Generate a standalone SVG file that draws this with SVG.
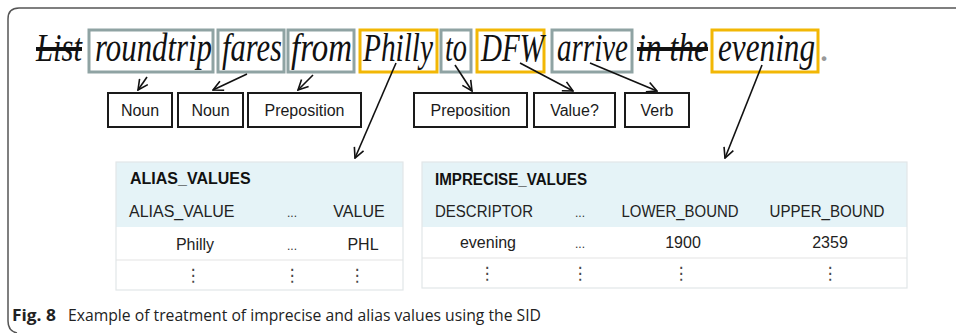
<svg xmlns="http://www.w3.org/2000/svg" width="956" height="333" viewBox="0 0 956 333">
  <style>
    .word { font-family: "Liberation Serif", "Times New Roman", serif; font-style: italic; font-size: 40px; fill: #111; }
    .strike { text-decoration: line-through; }
    .wbox-g { fill: none; stroke: #8fa3a3; stroke-width: 3; }
    .wbox-y { fill: none; stroke: #f2b705; stroke-width: 3; }
    .pos rect { fill: #fff; stroke: #1a1a1a; stroke-width: 2; }
    .pos text { font-family: "Liberation Sans", Arial, sans-serif; font-size: 16px; fill: #1a1a1a; text-anchor: middle; }
    .conn line { stroke: #111; stroke-width: 1.6; marker-end: url(#arrow); }
    .tbl-head { fill: #e5f3f7; }
    .tbl-frame { fill: none; stroke: #e2e6e8; stroke-width: 1.2; }
    .tbl-rule { stroke: #e4e4e4; stroke-width: 1.2; }
    .tt { font-family: "Liberation Sans", Arial, sans-serif; font-size: 16px; font-weight: bold; fill: #111; }
    .tc { font-family: "Liberation Sans", Arial, sans-serif; font-size: 16px; fill: #222; }
    .mid { text-anchor: middle; }
    .ell { font-family: "Liberation Sans", Arial, sans-serif; font-size: 12px; fill: #333; text-anchor: middle; }
    .vdots { font-family: "DejaVu Sans", sans-serif; font-size: 17px; fill: #444; text-anchor: middle; }
    .cap { font-family: "Open Sans", "Noto Sans", sans-serif; font-size: 16.5px; fill: #222; }
  </style>
  <defs>
    <marker id="arrow" viewBox="0 0 12 12" refX="11" refY="6" markerWidth="12" markerHeight="12" markerUnits="userSpaceOnUse" orient="auto">
      <path d="M1,1 L11,6 L1,11" fill="none" stroke="#111" stroke-width="1.6"/>
    </marker>
  </defs>

  <rect width="956" height="333" fill="#fff"/>

  <!-- figure frame: top and left edges with rounded corners -->
  <path d="M956 8 H19 Q8 8 8 19 V321 Q8 331 17 333" fill="none" stroke="#555" stroke-width="1.5"/>

  <!-- sentence -->
  <g id="sentence">
    <text class="word strike" x="36" y="61" textLength="46" lengthAdjust="spacingAndGlyphs">List</text>

    <g id="w-roundtrip">
      <rect class="wbox-g" x="89" y="30" width="124" height="42"/>
      <text class="word" x="95" y="61" textLength="117" lengthAdjust="spacingAndGlyphs">roundtrip</text>
    </g>
    <g id="w-fares">
      <rect class="wbox-g" x="218" y="30" width="66" height="42"/>
      <text class="word" x="222" y="61" textLength="60" lengthAdjust="spacingAndGlyphs">fares</text>
    </g>
    <g id="w-from">
      <rect class="wbox-g" x="288" y="30" width="66" height="42"/>
      <text class="word" x="291" y="61" textLength="61" lengthAdjust="spacingAndGlyphs">from</text>
    </g>
    <g id="w-philly">
      <rect class="wbox-y" x="360" y="30" width="77" height="42"/>
      <text class="word" x="363" y="61" textLength="70" lengthAdjust="spacingAndGlyphs">Philly</text>
    </g>
    <g id="w-to">
      <rect class="wbox-g" x="441" y="30" width="30" height="42"/>
      <text class="word" x="445" y="61" textLength="22" lengthAdjust="spacingAndGlyphs">to</text>
    </g>
    <g id="w-dfw">
      <rect class="wbox-y" x="477" y="30" width="67" height="42"/>
      <text class="word" x="481" y="61" textLength="63" lengthAdjust="spacingAndGlyphs">DFW</text>
    </g>
    <g id="w-arrive">
      <rect class="wbox-g" x="552" y="30" width="80" height="42"/>
      <text class="word" x="557" y="61" textLength="71" lengthAdjust="spacingAndGlyphs">arrive</text>
    </g>
    <text class="word strike" x="637" y="61" textLength="71" lengthAdjust="spacingAndGlyphs">in the</text>
    <g id="w-evening">
      <rect class="wbox-y" x="712" y="30" width="106" height="42"/>
      <text class="word" x="718" y="61" textLength="97" lengthAdjust="spacingAndGlyphs">evening</text>
    </g>
    <text class="word" x="820" y="61" style="fill:#999">.</text>
  </g>

  <!-- part-of-speech tags -->
  <g id="pos-noun1" class="pos">
    <rect x="108" y="93" width="64" height="34"/>
    <text x="140" y="116">Noun</text>
  </g>
  <g id="pos-noun2" class="pos">
    <rect x="178" y="93" width="65" height="34"/>
    <text x="210.5" y="116">Noun</text>
  </g>
  <g id="pos-prep1" class="pos">
    <rect x="248" y="93" width="113" height="34"/>
    <text x="304.5" y="116">Preposition</text>
  </g>
  <g id="pos-prep2" class="pos">
    <rect x="414" y="93" width="113" height="34"/>
    <text x="470.5" y="116">Preposition</text>
  </g>
  <g id="pos-value" class="pos">
    <rect x="534" y="93" width="81" height="34"/>
    <text x="574.5" y="116">Value?</text>
  </g>
  <g id="pos-verb" class="pos">
    <rect x="625" y="93" width="64" height="34"/>
    <text x="657" y="116">Verb</text>
  </g>

  <!-- connectors -->
  <g id="connectors" class="conn">
    <line x1="147" y1="77" x2="138" y2="90"/>
    <line x1="247" y1="74" x2="213" y2="90"/>
    <line x1="313" y1="75" x2="298" y2="90"/>
    <line x1="396" y1="63" x2="355" y2="158"/>
    <line x1="455" y1="65" x2="472" y2="91"/>
    <line x1="520" y1="63" x2="573" y2="91"/>
    <line x1="590" y1="63" x2="657" y2="91"/>
    <line x1="762" y1="65" x2="725" y2="158"/>
  </g>

  <!-- ALIAS_VALUES table -->
  <g id="tbl-alias">
    <rect class="tbl-head" x="116" y="162" width="287" height="65"/>
    <line class="tbl-rule" x1="116" y1="260" x2="403" y2="260"/>
    <rect class="tbl-frame" x="116" y="162" width="287" height="128"/>
    <text class="tt" x="130" y="184">ALIAS_VALUES</text>
    <text class="tc" x="129" y="217">ALIAS_VALUE</text>
    <text class="ell" x="292" y="217">...</text>
    <text class="tc mid" x="359" y="217">VALUE</text>
    <text class="tc mid" x="195" y="250">Philly</text>
    <text class="ell" x="292" y="250">...</text>
    <text class="tc mid" x="363" y="250">PHL</text>
    <text class="vdots" x="193" y="281">⋮</text>
    <text class="vdots" x="292" y="281">⋮</text>
    <text class="vdots" x="357" y="281">⋮</text>
  </g>

  <!-- IMPRECISE_VALUES table -->
  <g id="tbl-imprecise">
    <rect class="tbl-head" x="422" y="162" width="485" height="65"/>
    <line class="tbl-rule" x1="422" y1="258" x2="907" y2="258"/>
    <rect class="tbl-frame" x="422" y="162" width="485" height="126"/>
    <text class="tt" x="435" y="185" textLength="152" lengthAdjust="spacingAndGlyphs">IMPRECISE_VALUES</text>
    <text class="tc" x="435" y="217" textLength="98" lengthAdjust="spacingAndGlyphs">DESCRIPTOR</text>
    <text class="ell" x="580" y="217">...</text>
    <text class="tc mid" x="680" y="217" textLength="117" lengthAdjust="spacingAndGlyphs">LOWER_BOUND</text>
    <text class="tc mid" x="827" y="217" textLength="115" lengthAdjust="spacingAndGlyphs">UPPER_BOUND</text>
    <text class="tc mid" x="488" y="248">evening</text>
    <text class="ell" x="580" y="248">...</text>
    <text class="tc mid" x="683" y="248">1900</text>
    <text class="tc mid" x="830" y="248">2359</text>
    <text class="vdots" x="487" y="279">⋮</text>
    <text class="vdots" x="580" y="279">⋮</text>
    <text class="vdots" x="681" y="279">⋮</text>
    <text class="vdots" x="830" y="279">⋮</text>
  </g>

  <!-- caption -->
  <g id="caption">
    <text class="cap" x="12" y="321" font-weight="bold" textLength="44" lengthAdjust="spacingAndGlyphs">Fig. 8</text>
    <text class="cap" x="68" y="321" textLength="473" lengthAdjust="spacingAndGlyphs">Example of treatment of imprecise and alias values using the SID</text>
  </g>
</svg>
